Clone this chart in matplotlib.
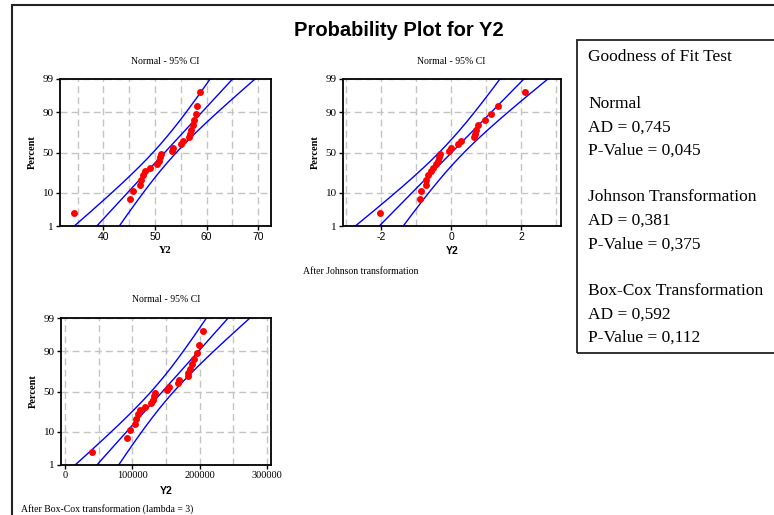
import numpy as np
import matplotlib
matplotlib.use("Agg")
import matplotlib.pyplot as plt
from matplotlib.patches import Rectangle
from statistics import NormalDist

# values (sorted, n = 24)
y2 = [34.23, 45.26, 45.83, 47.05, 47.3, 47.6, 48.1, 49.1, 50.45, 50.7, 51.0, 51.2,
      53.3, 53.6, 55.1, 55.4, 56.7, 56.8, 57.0, 57.3, 57.6, 57.9, 58.1, 58.8]
johnson = [-2.04, -0.895, -0.857, -0.733, -0.714, -0.657, -0.59, -0.524, -0.448, -0.39,
           -0.352, -0.324, -0.067, -0.02, 0.2, 0.286, 0.648, 0.676, 0.714, 0.762,
           0.962, 1.143, 1.333, 2.095]
boxcox = [40100, 92700, 96300, 104200, 105800, 107900, 111300, 118400, 128400, 130300,
          132700, 134200, 151400, 154000, 167300, 170000, 182300, 183300, 185200, 188100,
          192000, 195500, 199000, 205500]

pct_ticks = [1, 10, 50, 90, 99]
gof_lines = ["Goodness of Fit Test", "",
             "Normal", "AD = 0,745", "P-Value = 0,045", "",
             "Johnson Transformation", "AD = 0,381", "P-Value = 0,375", "",
             "Box-Cox Transformation", "AD = 0,592", "P-Value = 0,112"]

W, H = 774, 515
nd = NormalDist()
SERIF = "Liberation Serif"
SANS = "Liberation Sans"

fig = plt.figure(figsize=(W / 100, H / 100), dpi=100)


def px_axes(l, t, r, b):
    return fig.add_axes([l / W, 1 - b / H, (r - l) / W, (b - t) / H])


def ftext(x, y, s, **kw):
    fig.text(x / W, 1 - y / H, s, **kw)


def prob_panel(ax, data, xlim, major, minor, tick_family, label_family, xpad):
    data = np.sort(np.asarray(data, dtype=float))
    n = len(data)
    p = (np.arange(1, n + 1) - 0.3) / (n + 0.4)
    z = np.array([nd.inv_cdf(v) for v in p])
    zlo, zhi = nd.inv_cdf(0.01), nd.inv_cdf(0.99)

    # fitted normal line + 95% CI (ML estimates)
    mu, sig = data.mean(), data.std()
    zz = np.linspace(zlo - 0.2, zhi + 0.2, 300)
    mid = mu + zz * sig
    se = sig * np.sqrt((1 + zz ** 2 / 2) / n)
    for xs in (mid - 1.96 * se, mid, mid + 1.96 * se):
        ax.plot(xs, zz, color="#0000FF", lw=1.0, zorder=2)
    ax.plot(data, z, "o", color="#FF0000", ms=5.0, mec="none", zorder=3)

    ax.set_xlim(*xlim)
    ax.set_ylim(zlo, zhi)
    ax.set_yticks([nd.inv_cdf(v / 100) for v in pct_ticks])
    ax.set_yticklabels([str(v) for v in pct_ticks], family=SERIF, fontsize=8)
    ax.set_xticks(major)
    ax.set_xticklabels([str(v) for v in major], family=tick_family, fontsize=7.5)
    ax.set_xticks(minor, minor=True)
    ax.tick_params(which="major", direction="out", length=3, width=1, pad=1.5)
    ax.tick_params(which="minor", length=0)
    ax.set_axisbelow(True)
    ax.grid(True, which="both", axis="x", color="#C4C4C4", ls=(0, (5, 3)), lw=1)
    ax.grid(True, which="major", axis="y", color="#C4C4C4", ls=(0, (5, 3)), lw=1)
    for s in ax.spines.values():
        s.set_linewidth(1.3)
        s.set_color("black")
    ax.set_xlabel("Y2", family=label_family, fontweight="bold", fontsize=7.5, labelpad=xpad)
    ax.set_ylabel("Percent", family=SERIF, fontweight="bold", fontsize=7.5, labelpad=4)


ax1 = px_axes(60, 79, 271, 226)
prob_panel(ax1, y2, (31.6, 72.5), [40, 50, 60, 70], np.arange(35, 71, 5), SANS, SERIF, 3)

ax2 = px_axes(343, 79, 561, 226)
prob_panel(ax2, johnson, (-3.09, 3.13), [-2, 0, 2], np.arange(-3, 4, 1), SANS, SANS, 3)

ax3 = px_axes(61, 318, 271, 465)
prob_panel(ax3, boxcox, (-6000, 306000), [0, 100000, 200000, 300000],
           np.arange(0, 300001, 50000), SERIF, SANS, 4)

for cx, cy in [(165, 62), (451, 62), (166, 300)]:
    ftext(cx, cy, "Normal - 95% CI", family=SERIF, fontsize=7, ha="center", va="center")

ftext(303, 272, "After Johnson transformation", family=SERIF, fontsize=7, va="center")
ftext(21, 509, "After Box-Cox transformation (lambda = 3)", family=SERIF, fontsize=7,
      va="center")

ftext(399, 31, "Probability Plot for Y2", family=SANS, fontweight="bold", fontsize=14.5,
      ha="center", va="center")

# outer frame and goodness-of-fit box
fig.patches.append(Rectangle((12 / W, -0.05), 1.1, 1 - 5 / H + 0.05, transform=fig.transFigure,
                             fill=False, ec="#222222", lw=1.5))
fig.patches.append(Rectangle((577 / W, 1 - 353 / H), 1.0, (353 - 40) / H,
                             transform=fig.transFigure, fill=False, ec="#222222", lw=1.3))

y = 57
for line in gof_lines:
    if line:
        ftext(588, y, line, family=SERIF, fontsize=12.5, va="center")
    y += 23.4

fig.savefig("out.png", dpi=100)
